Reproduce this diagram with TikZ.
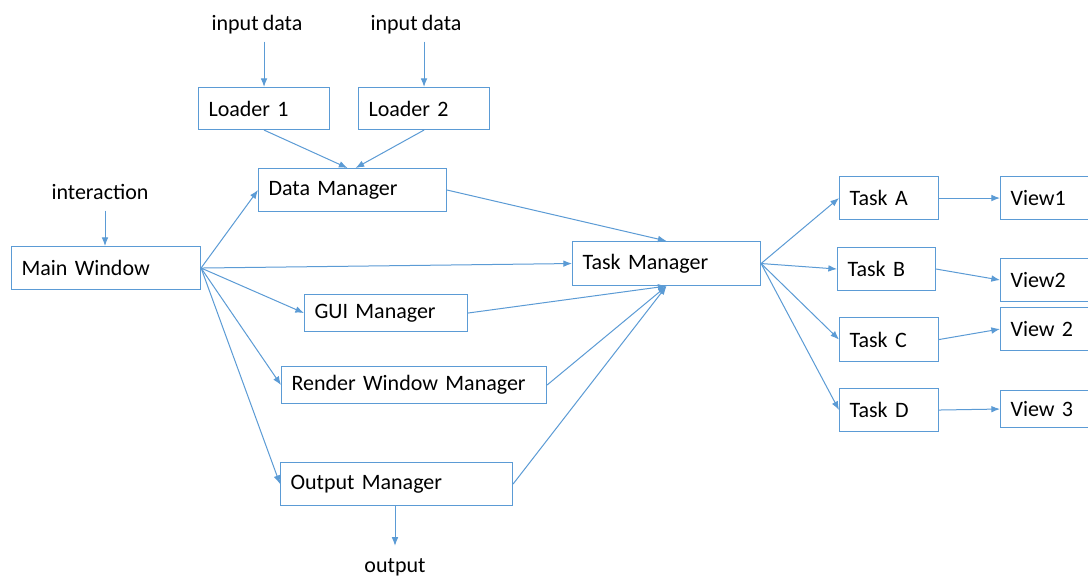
\documentclass[tikz,border=0pt]{standalone}
\usepackage{fontspec}
\setmainfont{Carlito}[WordSpace=0.85]
\usetikzlibrary{arrows.meta}
\definecolor{bc}{HTML}{5B9BD5}
\begin{document}
\begin{tikzpicture}[x=0.75pt,y=-0.75pt,
  every node/.style={font=\fontsize{16.5pt}{19pt}\selectfont, text=black},
  box/.style={draw=bc, line width=0.8pt, anchor=north west, inner xsep=7.5pt, inner ysep=0pt, align=left},
  lbl/.style={inner sep=0pt, anchor=base},
  arr/.style={draw=bc, line width=0.75pt, -{Latex[length=6.5pt,width=5pt]}}]
\clip (0,0) rectangle (1088,577);
\fill[white] (0,0) rectangle (1088,577);
% labels
\node[lbl] (in1) at (257,31) {input data};
\node[lbl] (in2) at (416,31) {input data};
\node[lbl] (inter) at (100,200) {interaction};
\node[lbl] (out) at (395,572) {output};
% boxes
\node[box, text width=83.25pt, minimum height=31.5pt] (l1) at (198,87) {Loader 1};
\node[box, text width=83.25pt, minimum height=31.5pt] (l2) at (358,87) {Loader 2};
\node[box, text width=126pt, minimum height=32.25pt] (dm) at (258,168) {Data Manager};
\node[box, text width=126.75pt, minimum height=32.25pt] (mw) at (11,246) {Main Window};
\node[box, text width=126pt, minimum height=33pt] (tm) at (572,241) {Task Manager};
\node[box, text width=107.25pt, minimum height=27.75pt] (gui) at (304,294) {GUI Manager};
\node[box, text width=183.75pt, minimum height=27.75pt] (rwm) at (281,366) {Render Window Manager};
\node[box, text width=159pt, minimum height=32.25pt] (om) at (280,462) {Output Manager};
\node[box, text width=59.25pt, minimum height=32.25pt] (ta) at (839,176) {Task A};
\node[box, text width=58.5pt, minimum height=32.25pt] (tb) at (837,247) {Task B};
\node[box, text width=59.25pt, minimum height=33pt] (tc) at (839,317) {Task C};
\node[box, text width=59.25pt, minimum height=32.25pt] (td) at (839,388) {Task D};
\node[box, text width=60pt, minimum height=32.25pt] (v1) at (1000,176) {View1};
\node[box, text width=60pt, minimum height=32.25pt] (v2) at (1000,258) {View2};
\node[box, text width=60pt, minimum height=32.25pt] (v2b) at (1000,307) {View 2};
\node[box, text width=60pt, minimum height=27.75pt] (v3) at (1000,390) {View 3};
% arrows
\draw[arr, shorten <=8pt] (in1.base -| l1.north) -- (l1.north);
\draw[arr, shorten <=8pt] (in2.base -| l2.north) -- (l2.north);
\draw[arr, shorten <=8pt] (inter.base -| 105,0) -- (mw.north -| 105,0);
\draw[arr, shorten >=9pt] (om.south -| out.north) -- (out.north);
\draw[arr] (l1.south) -- ([xshift=-3.75pt]dm.north);
\draw[arr] (l2.south) -- ([xshift=2.25pt]dm.north);
\draw[arr] (mw.east) -- (dm.west);
\draw[arr] (mw.east) -- (tm.west);
\draw[arr] (mw.east) -- (gui.west);
\draw[arr] (mw.east) -- (rwm.west);
\draw[arr] (mw.east) -- (om.west);
\draw[arr] (dm.east) -- (tm.north);
\draw[arr] (gui.east) -- (tm.south);
\draw[arr] (rwm.east) -- (tm.south);
\draw[arr] (om.east) -- (tm.south);
\draw[arr] (tm.east) -- (ta.west);
\draw[arr] (tm.east) -- (tb.west);
\draw[arr] (tm.east) -- (tc.west);
\draw[arr] (tm.east) -- (td.west);
\draw[arr] (ta.east) -- (v1.west);
\draw[arr] (tb.east) -- (v2.west);
\draw[arr] (tc.east) -- (v2b.west);
\draw[arr] (td.east) -- (v3.west);
\end{tikzpicture}
\end{document}
